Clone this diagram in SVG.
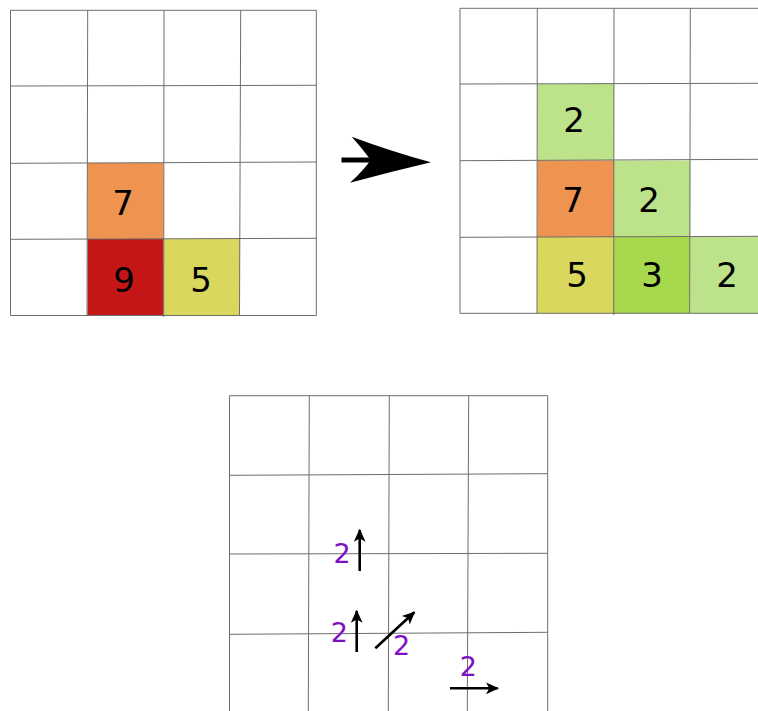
<svg xmlns="http://www.w3.org/2000/svg" width="758" height="711" viewBox="0 0 758 711">
<style>
.g{stroke:#6e6e6e;stroke-width:1;fill:none}
.n{font-family:"DejaVu Sans",sans-serif;font-size:34px;fill:#000;text-anchor:middle}
.p{font-family:"DejaVu Sans",sans-serif;font-size:27px;fill:#7e10c4;text-anchor:middle}
.a{stroke:#000;stroke-width:2.6;fill:none;marker-end:url(#ah)}
</style>
<defs>
<marker id="ah" viewBox="0 0 10 10" refX="9" refY="5" markerWidth="5" markerHeight="5" markerUnits="strokeWidth" orient="auto">
<path d="M0,0.5 L10,5 L0,9.5 L2.5,5 Z" fill="#000"/>
</marker>
</defs>
<rect width="758" height="711" fill="#fff"/>
<g id="grid1">
<rect id="c1-7" x="87.5" y="163" width="76" height="76" fill="#ee9450"/>
<rect id="c1-9" x="87.5" y="239" width="76" height="76.5" fill="#c41616"/>
<rect id="c1-5" x="163.5" y="239" width="76.5" height="76.5" fill="#d9d75e"/>
<path class="g" d="M10.5,10.3 H316.5 M10.5,86 L316.5,85.3 M10.5,163.3 L316.5,162 M10.5,239.3 L316.5,238.3 M10.5,315.5 H316.5 M10.5,10.3 V315.5 M87.7,10.3 L87,315.5 M164,10.3 L163.7,317 M240.7,10.3 L239.5,315.5 M316.3,10.3 V315.5"/>
<text class="n" x="123" y="215">7</text>
<text class="n" x="124" y="292">9</text>
<text class="n" x="201" y="292">5</text>
</g>
<g id="grid2">
<rect id="c2-2a" x="537.3" y="84" width="76.7" height="76.5" fill="#bce38a"/>
<rect id="c2-7" x="537.3" y="160.5" width="76.7" height="76.5" fill="#ee9450"/>
<rect id="c2-2b" x="614" y="160.5" width="76.3" height="76.5" fill="#bce38a"/>
<rect id="c2-5" x="537" y="237" width="77" height="76.5" fill="#d9d75e"/>
<rect id="c2-3" x="614" y="236.5" width="76.3" height="77" fill="#a8d84e"/>
<rect id="c2-2c" x="690.3" y="236.3" width="68" height="77.2" fill="#bce38a"/>
<path class="g" d="M460,8.3 H758 M460,84 L758,83.3 M460,160.7 L758,159.3 M460,237.3 L758,236.3 M460,313.3 H758 M460,8.3 V313.3 M537.3,8.3 L537,313.3 M614,8.3 L613.7,315 M690.3,8.3 L689.7,313.3"/>
<text class="n" x="574" y="132">2</text>
<text class="n" x="573" y="212">7</text>
<text class="n" x="649" y="212">2</text>
<text class="n" x="577" y="287">5</text>
<text class="n" x="652" y="287">3</text>
<text class="n" x="727" y="287">2</text>
</g>
<g id="bigarrow">
<path d="M341.5,160 H371" stroke="#000" stroke-width="5" fill="none"/>
<path d="M351.7,136.7 Q390,151 431,162.3 Q390,172 350,182.7 Q364,170 370.7,160 Q362,148 351.7,136.7 Z" fill="#000"/>
</g>
<g id="grid3">
<path class="g" d="M229.5,395.7 H547.7 M229.5,475.3 L547.7,473.7 M229.5,554 L547.7,553.3 M229.5,634.3 L547.7,632.3 M229.5,395.7 V711 M309.3,395.7 L308.3,711 M389.3,395.7 L388.3,711 M468.7,395.7 L467.3,711 M547.7,395.7 V711"/>
</g>
<g id="connectors">
<line class="a" x1="359.7" y1="571" x2="359.7" y2="530"/>
<line class="a" x1="356.7" y1="652" x2="356.7" y2="611"/>
<line class="a" x1="375.3" y1="648.3" x2="414.3" y2="612.3"/>
<line class="a" x1="450" y1="688.3" x2="497.7" y2="688.3"/>
</g>
<g id="labels">
<text class="p" x="342" y="563">2</text>
<text class="p" x="339.3" y="642">2</text>
<text class="p" x="401.7" y="655">2</text>
<text class="p" x="468.3" y="675.7">2</text>
</g>
</svg>
